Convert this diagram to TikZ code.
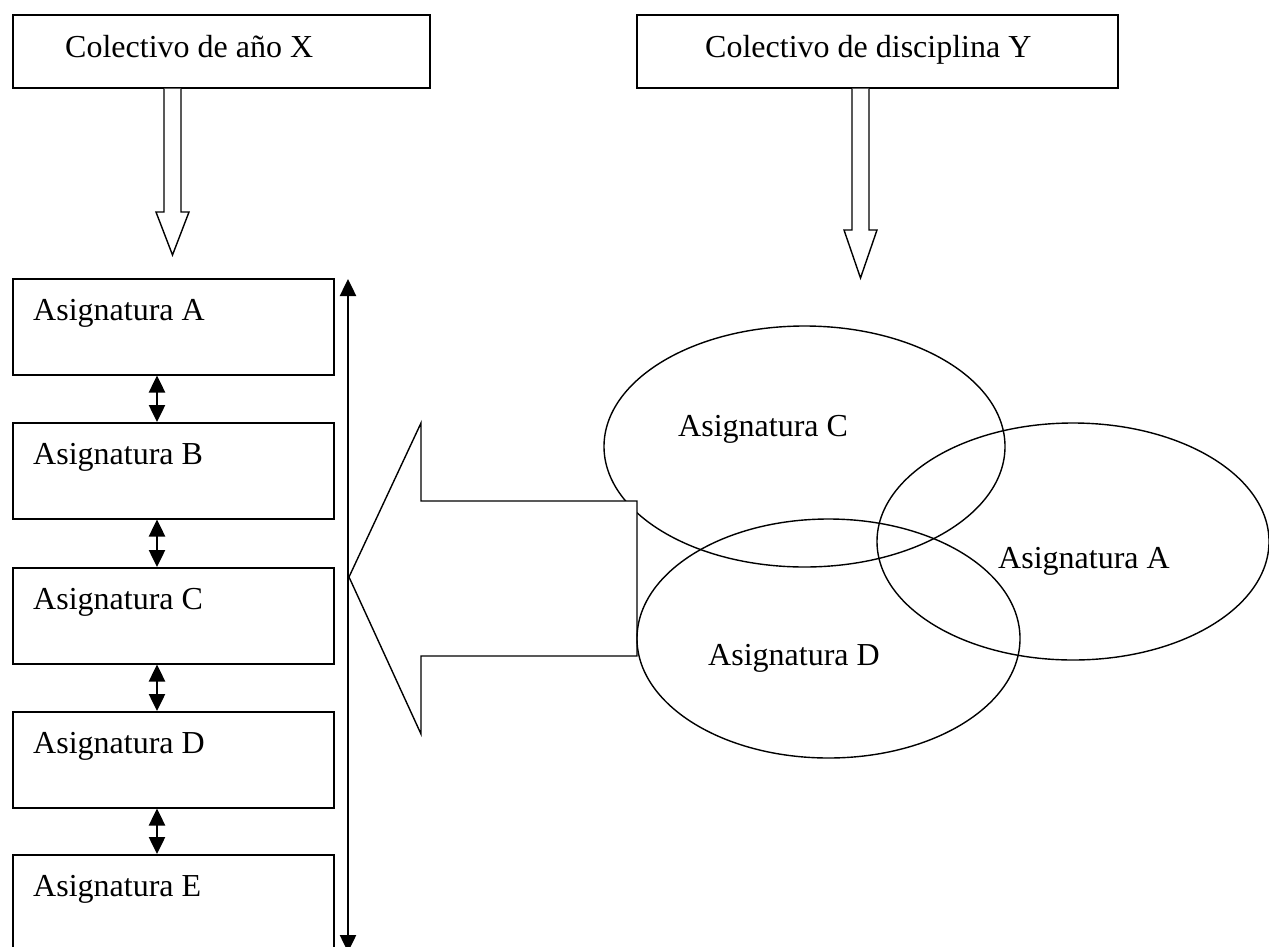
\documentclass[tikz,border=0pt]{standalone}
\usepackage{fontspec}
\setmainfont{Liberation Serif}
\usetikzlibrary{arrows.meta,shapes.geometric,calc}
\begin{document}
\begin{tikzpicture}[x=1pt,y=-1pt,
  box/.style={draw, line width=1.5pt, rectangle, inner sep=0pt, anchor=north west},
  lbl/.style={inner sep=0pt, anchor=base west, font=\fontsize{32}{38}\selectfont},
  oval/.style={draw, line width=1.4pt, ellipse, inner sep=0pt},
  hollow/.style={draw, line width=1.4pt, fill=white, line join=miter},
  link/.style={line width=2.5pt, {Triangle[width=16pt,length=17pt]}-{Triangle[width=16pt,length=17pt]}},
]
\useasboundingbox (0,0) rectangle (1269,946);
\fill[white] (0,0) rectangle (1269,946);
\clip (0,0) rectangle (1269,946);

% header boxes
\node[box, minimum width=417pt, minimum height=73pt] (year) at (12,14) {};
\node[box, minimum width=481pt, minimum height=73pt] (disc) at (636,14) {};
\node[lbl] (yeart) at (65,57) {Colectivo de año X};
\node[lbl] (disct) at (705,57) {Colectivo de disciplina Y};

% hollow arrows leaving the header boxes
\coordinate (yeartip) at (172.5,255);
\coordinate (disctip) at (860.5,278);
\draw[hollow] (164,0 |- year.south) -- (164,212) -- (156,212) -- (yeartip)
  -- (189,212) -- (181,212) -- (181,0 |- year.south);
\draw[hollow] (852,0 |- disc.south) -- (852,230) -- (844,230) -- (disctip)
  -- (877,230) -- (869,230) -- (869,0 |- disc.south);

% column of subjects
\foreach \n/\t/\y in {sa/A/278, sb/B/422, sc/C/567, sd/D/711, se/E/854} {
  \node[box, minimum width=321pt, minimum height=96pt] (\n) at (12,\y) {};
  \node[lbl] (\n-t) at (33,\y+42) {Asignatura \t};
}

% links between consecutive subjects
\coordinate (lx) at (157,0);
\draw[link] (lx |- sa.south) -- (lx |- sb.north);
\draw[link] (lx |- sb.south) -- (lx |- sc.north);
\draw[link] (lx |- sc.south) -- (lx |- sd.north);
\draw[link] (lx |- sd.south) -- (lx |- se.north);

% long vertical double arrow
\coordinate (vtop) at (348,279);
\coordinate (vbot) at (348,952);
\draw[link] (vtop) -- (vbot);

% overlapping subjects of the discipline
\node[oval, minimum width=401pt, minimum height=241pt] (ec) at (804.5,446.5) {};

% big block arrow pointing to the column
\coordinate (bigtip) at (349,577);
\draw[hollow] (bigtip) -- (421,423) -- (421,501) -- (637,501)
  -- (637,656) -- (421,656) -- (421,734) -- cycle;

\node[oval, minimum width=383pt, minimum height=239pt] (ed) at (828.5,638.5) {};
\node[oval, minimum width=392pt, minimum height=237pt] (ea) at (1073,541.5) {};

\node[lbl] (ect) at (678,436) {Asignatura C};
\node[lbl] (edt) at (708,665) {Asignatura D};
\node[lbl] (eat) at (998,568) {Asignatura A};
\end{tikzpicture}
\end{document}
